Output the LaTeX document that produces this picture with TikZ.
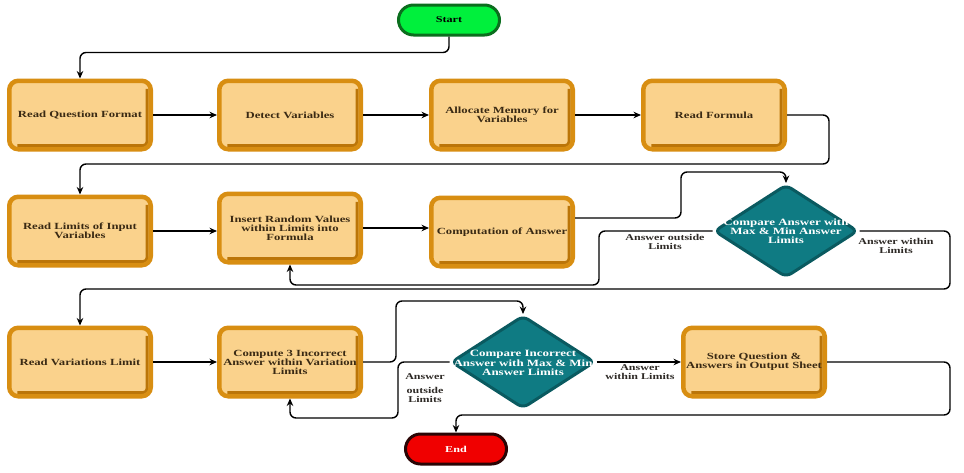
\documentclass[tikz,border=0pt]{standalone}
\usepackage{fontspec}
\setmainfont{Liberation Serif}[FakeStretch=1.35]
\usetikzlibrary{shapes.geometric,arrows.meta,calc}
\definecolor{boxfill}{HTML}{FAD28C}
\definecolor{boxborder}{HTML}{D88E12}
\definecolor{boxdark}{HTML}{BB7508}
\definecolor{boxtext}{HTML}{3A2A14}
\definecolor{dfill}{HTML}{0F7B83}
\definecolor{dborder}{HTML}{0A5A60}
\definecolor{sfill}{HTML}{00F03C}
\definecolor{sborder}{HTML}{0B6E1E}
\definecolor{efill}{HTML}{F00000}
\definecolor{eborder}{HTML}{2A0505}
\definecolor{lblcol}{HTML}{2E2A26}
\begin{document}
\begin{tikzpicture}[x=1pt,y=-1pt,
  stepbox/.style={draw=boxborder, line width=4.5pt, fill=boxfill, rounded corners=9pt,
    minimum width=141.5pt, minimum height=68.5pt, inner sep=1pt, align=center,
    text=boxtext, font=\fontsize{9.4}{9}\selectfont\bfseries,
    path picture={\draw[boxdark, line width=3pt, rounded corners=4pt]
      ([xshift=-3.6pt,yshift=-8pt]path picture bounding box.north east) |-
      ([xshift=8pt,yshift=3.6pt]path picture bounding box.south west);}},
  decision/.style={diamond, draw=dborder, line width=3pt, fill=dfill,
    minimum width=144pt, minimum height=93pt, inner sep=0pt, rounded corners=6pt},
  dtext/.style={align=center, text=white, font=\fontsize{9.6}{9.2}\selectfont\bfseries, inner sep=0pt},
  terminal/.style={rectangle, rounded corners=15pt, line width=3pt,
    minimum width=101pt, minimum height=30pt, inner sep=0pt,
    font=\fontsize{9}{9}\selectfont\bfseries},
  conn/.style={draw=black, line width=1.4pt, rounded corners=6pt,
    -{Stealth[length=7.5pt,width=6.5pt]}},
  lbl/.style={align=center, text=lblcol, font=\fontsize{8.9}{8.9}\selectfont\bfseries, inner sep=0pt}
]
\useasboundingbox (0,0) rectangle (964,472);

% terminals
\node[terminal, fill=sfill, draw=sborder, text=black] (start) at (449,20) {Start};
\node[terminal, fill=efill, draw=eborder, text=white] (end) at (456,449) {End};

% row 1
\node[stepbox] (b1) at (80,115) {Read Question Format};
\node[stepbox] (b2) at (290,115) {Detect Variables};
\node[stepbox] (b3) at (502,115) {Allocate Memory for\\Variables};
\node[stepbox] (b4) at (714,115) {Read Formula};

% row 2
\node[stepbox] (b5) at (80,231) {Read Limits of Input\\Variables};
\node[stepbox] (b6) at (290,228) {Insert Random Values\\within Limits into\\Formula};
\node[stepbox] (b7) at (502,232) {Computation of Answer};
\node[decision] (d1) at (786,231) {};
\node[dtext] (d1t) at (786,231) {Compare Answer with\\Max \& Min Answer\\Limits};

% row 3
\node[stepbox] (b9) at (80,362) {Read Variations Limit};
\node[stepbox] (b10) at (290,362) {Compute 3 Incorrect\\Answer within Variation\\Limits};
\node[decision] (d2) at (523,362) {};
\node[dtext] (d2t) at (523,363) {Compare Incorrect\\Answer with Max \& Min\\Answer Limits};
\node[stepbox] (b11) at (754,362) {Store Question \&\\Answers in Output Sheet};

% connectors
\draw[conn] (start.south) -- ++(0,16) -| (b1.north);
\draw[conn] (b1.east) -- (b2.west);
\draw[conn] (b2.east) -- (b3.west);
\draw[conn] (b3.east) -- (b4.west);
\draw[conn] (b4.east) -| (829,164) -| (b5.north);
\draw[conn] (b5.east) -- (b5.east -| b6.west);
\draw[conn] (b6.east) -- (b6.east -| b7.west);
\draw[conn] ([yshift=14pt]b7.east) -| (681,172) -| (d1.north);
\draw[conn] (d1.west) -| (599,285) -| (b6.south);
\draw[conn] (d1.east) -| (950,289) -| (b9.north);
\draw[conn] (b9.east) -- (b10.west);
\draw[conn] (b10.east) -| (396,301) -| (d2.north);
\draw[conn] (d2.west) -| (398,418) -| (b10.south);
\draw[conn] (d2.east) -- (b11.west);
\draw[conn] (b11.east) -| (950,415) -| (end.north);

% labels
\node[lbl] (l1) at (665,242) {Answer outside\\Limits};
\node[lbl] (l2) at (896,246) {Answer within\\Limits};
\node[lbl] (l3) at (425,388) {Answer\\[6pt]outside\\Limits};
\node[lbl] (l4) at (640,372) {Answer\\within Limits};
\end{tikzpicture}
\end{document}
